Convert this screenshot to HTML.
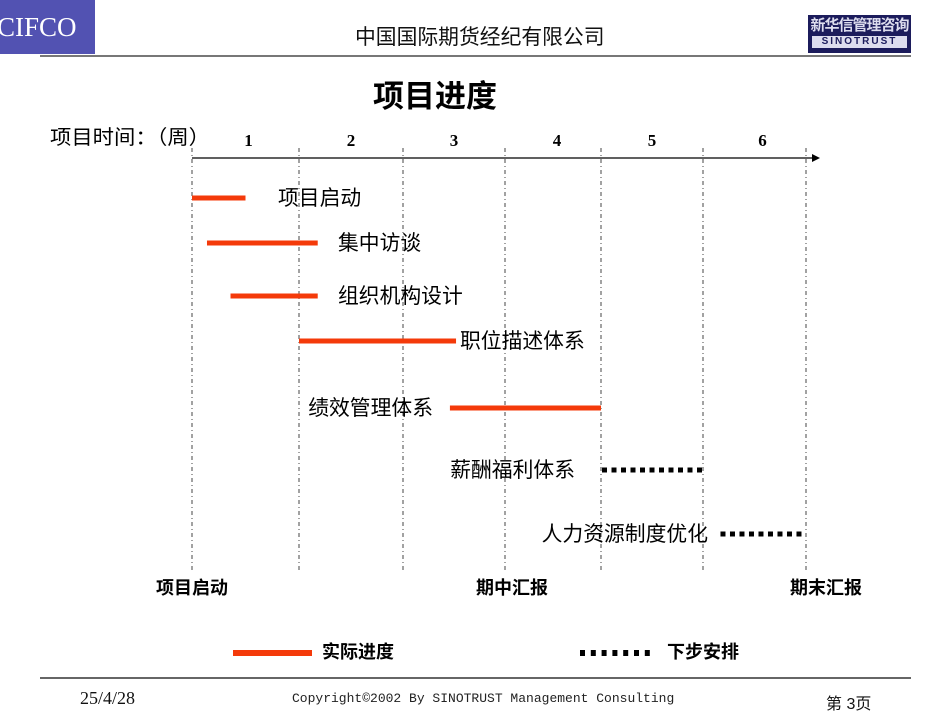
<!DOCTYPE html>
<html><head><meta charset="utf-8">
<style>
html,body{margin:0;padding:0;background:#fff;}
body{width:950px;height:713px;position:relative;overflow:hidden;font-family:"Liberation Sans","Noto Sans CJK SC",sans-serif;}
.abs{position:absolute;white-space:nowrap;}
</style></head>
<body>
<div class="abs" style="left:0;top:0;width:95px;height:54px;background:#5252b2;overflow:hidden;">
 <span style="position:absolute;left:-3px;top:12px;color:#fff;font-family:'Liberation Serif',serif;font-size:27px;">CIFCO</span>
</div>
<div class="abs" style="left:355px;top:20px;font-size:20.8px;color:#111;">中国国际期货经纪有限公司</div>
<div class="abs" style="left:808px;top:15px;width:103px;height:38px;background:#1c1c5c;color:#dde;text-align:center;">
 <div style="font-size:15px;font-weight:bold;line-height:18px;margin-top:2px;letter-spacing:-1px;">新华信管理咨询</div>
 <div style="margin:1px 4px 0;background:#dde;color:#1c1c5c;font-size:10px;font-weight:bold;line-height:12px;letter-spacing:2px;">SINOTRUST</div>
</div>
<div class="abs" style="left:40px;top:55px;width:871px;height:2px;background:#777;"></div>
<div class="abs" style="left:373px;top:71px;font-size:31px;font-weight:bold;color:#000;">项目进度</div>

<svg class="abs" style="left:0;top:0" width="950" height="713" id="chart"></svg>

<div class="abs" style="left:40px;top:677px;width:871px;height:2px;background:#666;"></div>
<div class="abs" style="left:80px;top:688px;font-size:18px;font-family:'Liberation Serif',serif;color:#111;">25/4/28</div>
<div class="abs" style="left:292px;top:691px;font-size:13px;font-family:'Liberation Mono',monospace;color:#222;">Copyright©2002 By SINOTRUST Management Consulting</div>
<div class="abs" style="left:826px;top:690px;font-size:16px;color:#111;">第 3页</div>

<script>
const weekLabels = ["1","2","3","4","5","6"];
const taskNames = ["项目启动","集中访谈","组织机构设计","职位描述体系","绩效管理体系","薪酬福利体系","人力资源制度优化"];
const taskStart = [0, 0.14, 0.36, 1.0, 2.46, 4.0, 5.16];
const taskEnd   = [0.5, 1.18, 1.18, 2.52, 4.0, 5.07, 6.0];
const taskType  = ["actual","actual","actual","actual","actual","plan","plan"];
const milestoneNames = ["项目启动","期中汇报","期末汇报"];
const milestoneWeeks = [0, 3, 6];

const svg = document.getElementById('chart');
const NS = 'http://www.w3.org/2000/svg';
const FONT = '"Liberation Sans","Noto Sans CJK SC",sans-serif';
const bounds = [192,299,403,505,601,703,806];
function xScale(w){ const i=Math.max(0,Math.min(5,Math.floor(w))); return bounds[i]+(w-i)*(bounds[i+1]-bounds[i]); }
const rowY = [198,243,296,341,408,470,534];
const labelPos = [[278,"start"],[338,"start"],[338,"start"],[460,"start"],[433,"end"],[575,"end"],[708,"end"]];
const milestoneOffset = [0,7,20];
function mk(tag, attrs){ const e=document.createElementNS(NS,tag); for(const k in attrs) e.setAttribute(k,attrs[k]); svg.appendChild(e); return e; }

for(let i=0;i<=6;i++){
  const g=mk('line',{x1:xScale(i),x2:xScale(i),y1:148,y2:570,stroke:'#444','stroke-width':1,'stroke-dasharray':'4,3,1,3'});
  
  
}
const ax=mk('line',{x1:xScale(0),x2:xScale(6)+10,y1:158,y2:158,stroke:'#000','stroke-width':1.3});


const ar=mk('path',{d:`M${xScale(6)+14},158 l-8,-4 v8 z`,fill:'#000'});


const at=mk('text',{x:50,y:144,'font-size':20,fill:'#000','font-family':FONT,textLength:160,lengthAdjust:'spacingAndGlyphs'});
at.textContent='项目时间：（周）';


weekLabels.forEach((l,i)=>{
  let cx = (xScale(i)+xScale(i+1))/2;
  if(i===0) cx+=3; if(i===5) cx+=8; if(i===3) cx+=4;
  const t=mk('text',{x:cx,y:146,'font-size':17,'font-weight':'bold','text-anchor':'middle','font-family':'"Liberation Serif",serif'});
  t.textContent=l;
  
  
});
taskNames.forEach((n,i)=>{
  const x1=xScale(taskStart[i]), x2=xScale(taskEnd[i]), y=rowY[i];
  if(taskType[i]==='actual'){
    const r=mk('rect',{x:x1,y:y-2.5,width:x2-x1,height:5,fill:'#f43a0a'});
    
    
  } else {
    const g=mk('g',{});
    
    
    for(let x=x1+1;x<=x2-4;x+=9.5){
      const s=document.createElementNS(NS,'rect');
      s.setAttribute('x',x);s.setAttribute('y',y-2.5);s.setAttribute('width',5);s.setAttribute('height',5);s.setAttribute('fill','#000');
      g.appendChild(s);
    }
  }
  const t=mk('text',{x:labelPos[i][0],y:y+7,'font-size':20.8,'text-anchor':labelPos[i][1],fill:'#000','font-family':FONT});
  t.textContent=n;
  
  
});
milestoneNames.forEach((n,i)=>{
  const t=mk('text',{x:xScale(milestoneWeeks[i])+milestoneOffset[i],y:594,'font-size':18,'font-weight':'bold','text-anchor':'middle','font-family':FONT});
  t.textContent=n;
  
  
});
const l1=mk('rect',{x:233,y:650,width:79,height:6,fill:'#f43a0a'});


const lt1=mk('text',{x:322,y:658,'font-size':18,'font-weight':'bold','font-family':FONT});
lt1.textContent='实际进度';


const lg=mk('g',{});


for(let k=0;k<7;k++){
  const s=document.createElementNS(NS,'rect');
  s.setAttribute('x',580+k*10.8);s.setAttribute('y',650);s.setAttribute('width',5);s.setAttribute('height',6);s.setAttribute('fill','#000');
  lg.appendChild(s);
}
const lt2=mk('text',{x:667,y:658,'font-size':18,'font-weight':'bold','font-family':FONT});
lt2.textContent='下步安排';


</script>
</body></html>
